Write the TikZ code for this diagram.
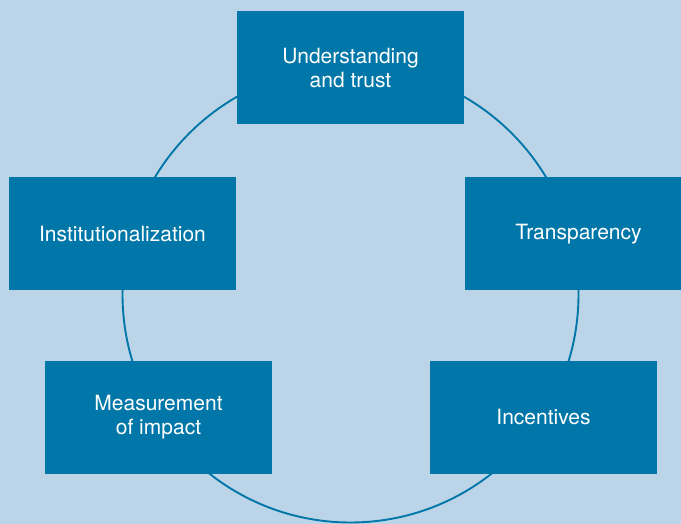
\documentclass[tikz,border=0pt]{standalone}
\usepackage{fontspec}
\setmainfont{TeX Gyre Heros}
\definecolor{boxblue}{RGB}{0,119,168}
\definecolor{bgblue}{RGB}{187,212,231}

\begin{document}
\begin{tikzpicture}[x=1pt,y=-1pt,
  stage/.style={fill=boxblue,text=white,minimum width=227pt,minimum height=113pt,
    align=center,inner sep=0pt,font=\fontsize{21}{24}\selectfont}]

  \useasboundingbox (0,0) rectangle (681,524);
  \fill[bgblue] (0,0) rectangle (681,524);
  \clip (0,0) rectangle (681,524);

  % the cycle
  \coordinate (centre) at (350.5,294.5);
  \draw[boxblue,line width=1.9pt] (centre) circle[radius=228pt];

  \node[stage] (trust) at (350.5,68) {Understanding\\and trust};
  \node[stage] (transp) at (578.5,234) {Transparency};
  \node[stage] (incent) at (543.5,417) {Incentives};
  \node[stage] (measure) at (158.5,417) {Measurement\\of impact};
  \node[stage] (instit) at (122.5,234) {Institutionalization};

\end{tikzpicture}
\end{document}
